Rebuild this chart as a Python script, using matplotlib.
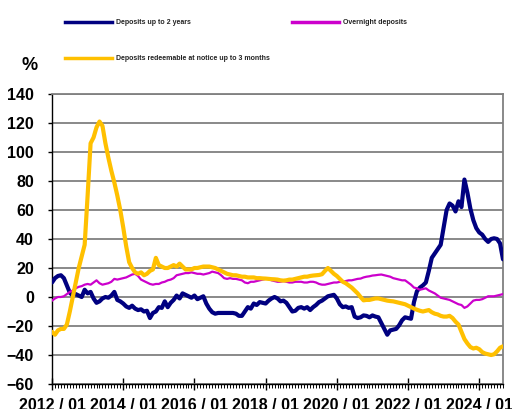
import matplotlib
matplotlib.use("Agg")
import matplotlib.pyplot as plt
from matplotlib.lines import Line2D
import numpy as np

plt.rcParams['font.family'] = ['Liberation Sans', 'DejaVu Sans']
plt.rcParams['font.weight'] = 'bold'

# monthly, 2012/01 .. 2024/09
tick_labels = ['2012 / 01', '2014 / 01', '2016 / 01', '2018 / 01',
               '2020 / 01', '2022 / 01', '2024 / 01']

up_to_2y = [
    10, 13, 14.5, 15, 13, 8, 3, 1, 2, 1,
    0, 5, 2.5, 3.5, -1, -4, -3, -1, 0, -0.5,
    1, 3.5, -2, -3, -4.5, -6.5, -7.5, -6, -8, -9,
    -8.5, -10, -9.5, -14.5, -11, -10, -7, -7.5, -3, -7,
    -4, -2, 1, -1, 2.5, 1.5, 0.5, -0.5, 1, -1.5,
    -0.5, 0.5, -4.5, -8, -10.5, -11.5, -11, -11, -11, -11,
    -11, -11, -11.5, -13, -13, -10, -7, -8, -4.5, -5.5,
    -3.5, -4, -4.5, -2.5, -1, 0, -1, -3, -2.5, -4,
    -7, -10, -9.5, -7.5, -7, -8, -7, -9, -7, -5.5,
    -3.5, -2.5, -1, 0.5, 1, 1.5, -1, -5, -7, -6.5,
    -7.5, -7, -13.5, -14.5, -14, -12.7, -13, -14, -12.7, -13.5,
    -14, -18, -22, -26, -23, -22.5, -22, -19.5, -16, -14,
    -14.5, -15, -3.5, 4, 6.5, 8, 10, 18, 27, 30,
    33, 36, 48, 60, 64.5, 63, 59, 66, 62, 81,
    72, 61, 53, 47.5, 44.5, 43, 40, 38, 40, 40.5,
    40, 37, 26,
]

overnight = [
    -2.5, -1, 0, 0, 0.5, 2, 3.5, 4.5, 6, 7,
    7.5, 8.5, 9, 8.5, 10, 11.5, 9.5, 8.5, 9, 9.5,
    10.5, 12.5, 12, 12.5, 13, 13.5, 14.5, 15.5, 16, 14.5,
    12, 11, 10, 9, 8.5, 9, 9, 10, 10.5, 11.5,
    12, 13, 15, 15.5, 16, 16.5, 16.5, 17, 16.5, 16,
    16, 15.5, 16, 16.5, 17.5, 17, 16.5, 15, 13, 12.5,
    13, 12.5, 12.5, 12, 11.5, 10, 9.5, 10.5, 10.5, 11,
    11.5, 12, 12.5, 12.5, 11.5, 11, 10.5, 10.5, 11, 10.5,
    10, 10, 10.5, 10.5, 10.5, 10, 10, 10.5, 10.5, 10,
    9, 8.5, 8.5, 9, 9.5, 10, 10, 10.5, 10.5, 11,
    11.5, 11.5, 12, 12.5, 12.7, 13.5, 14, 14.3, 14.8, 15,
    15.3, 15.5, 15, 14.5, 14, 13, 12.5, 12, 11.5, 11.5,
    10, 8.5, 6.5, 6, 5, 5.5, 6, 4.5, 3.5, 2.5,
    1, -0.5, -1, -1.5, -2, -3, -4, -5, -5.5, -7.5,
    -6.5, -4.5, -2.5, -2, -2, -1.5, -0.5, 0.5, 0.5, 0.5,
    1, 1.5, 2,
]

notice_3m = [
    -24, -26, -23, -22, -22, -19, -10, 0, 10, 20,
    28, 36, 70, 106, 110, 117, 121, 118, 106, 96,
    87, 79, 70, 60, 48, 35, 24, 20, 17, 16,
    17, 15, 16, 18, 19, 27, 22, 21, 20, 20,
    21, 22, 21, 23, 21, 19, 19, 19, 20, 20,
    20.5, 21, 21, 21, 20.5, 20, 19, 18, 17, 16,
    15.5, 15, 15, 14.5, 14, 14, 13.5, 13.5, 13.5, 13,
    13, 12.8, 12.7, 12.5, 12.3, 12.2, 12, 11.5, 11.3, 11.5,
    12, 12, 12.5, 13, 13.5, 14, 14, 14.5, 14.8, 15,
    15.2, 15.7, 18, 20, 18, 16, 14.5, 12.5, 10.5, 9.5,
    8, 6.5, 4.5, 2.5, 0, -2.3, -2, -2, -1.5, -1,
    -1, -1.5, -2, -2.5, -2.8, -3, -3.5, -4, -4.5, -5,
    -6, -7, -8, -8.8, -9.5, -10, -9.5, -9, -10.5, -11.5,
    -12, -13, -13.5, -13.5, -13, -14.5, -17, -19, -24, -29,
    -32, -34.5, -35.5, -35, -36, -38, -39, -39.5, -40, -39.5,
    -37.5, -35, -34,
]

c_blue = '#000080'
c_mag = '#CC00CC'
c_yel = '#FFC000'

x = np.arange(len(up_to_2y))

fig = plt.figure(figsize=(5.12, 4.09), dpi=100)
ax = fig.add_axes([0.1016, 0.0611, 0.8808, 0.7091])

ax.plot(x, up_to_2y, color=c_blue, lw=3.0, solid_capstyle='round', zorder=3)
ax.plot(x, overnight, color=c_mag, lw=1.6, zorder=3)
ax.plot(x, notice_3m, color=c_yel, lw=3.0, solid_capstyle='round', zorder=3)

ax.set_xlim(0, len(x) - 1)
ax.set_ylim(-60, 140)
ax.set_yticks(range(-60, 141, 20))
ax.set_xticks(range(0, len(x), 24))
ax.set_xticklabels(tick_labels)
ax.set_xticks(range(0, len(x)), minor=True)
ax.grid(axis='y', color='#808080', lw=1.3, zorder=1)

for s in ['top', 'right']:
    ax.spines[s].set_color('#808080')
    ax.spines[s].set_linewidth(1.3)
for s in ['left', 'bottom']:
    ax.spines[s].set_color('black')
    ax.spines[s].set_linewidth(1.0)

ax.tick_params(axis='y', length=3, width=1, labelsize=11.5, pad=10)
ax.tick_params(axis='x', which='major', direction='inout', length=8, width=1,
               labelsize=11.5, pad=6)
ax.tick_params(axis='x', which='minor', direction='out', length=3, width=0.7)
for lab in ax.get_xticklabels() + ax.get_yticklabels():
    lab.set_fontweight('bold')

fig.text(30 / 512, 1 - 65 / 409, '%', fontsize=13, fontweight='bold',
         ha='center', va='center')

# legend
entries = [
    (c_blue, 2.5, 'Deposits up to 2 years', 65, 22),
    (c_mag, 2.5, 'Overnight deposits', 292, 22),
    (c_yel, 2.5, 'Deposits redeemable at notice up to 3 months', 65, 58),
]
for col, w, txt, px, py in entries:
    yy = 1 - py / 409
    fig.add_artist(Line2D([px / 512, (px + 47) / 512], [yy, yy], color=col, lw=w))
    fig.text((px + 51) / 512, yy, txt, fontsize=5, fontweight='bold',
             va='center', ha='left', color='#222222')

fig.savefig('out.png', dpi=100)
